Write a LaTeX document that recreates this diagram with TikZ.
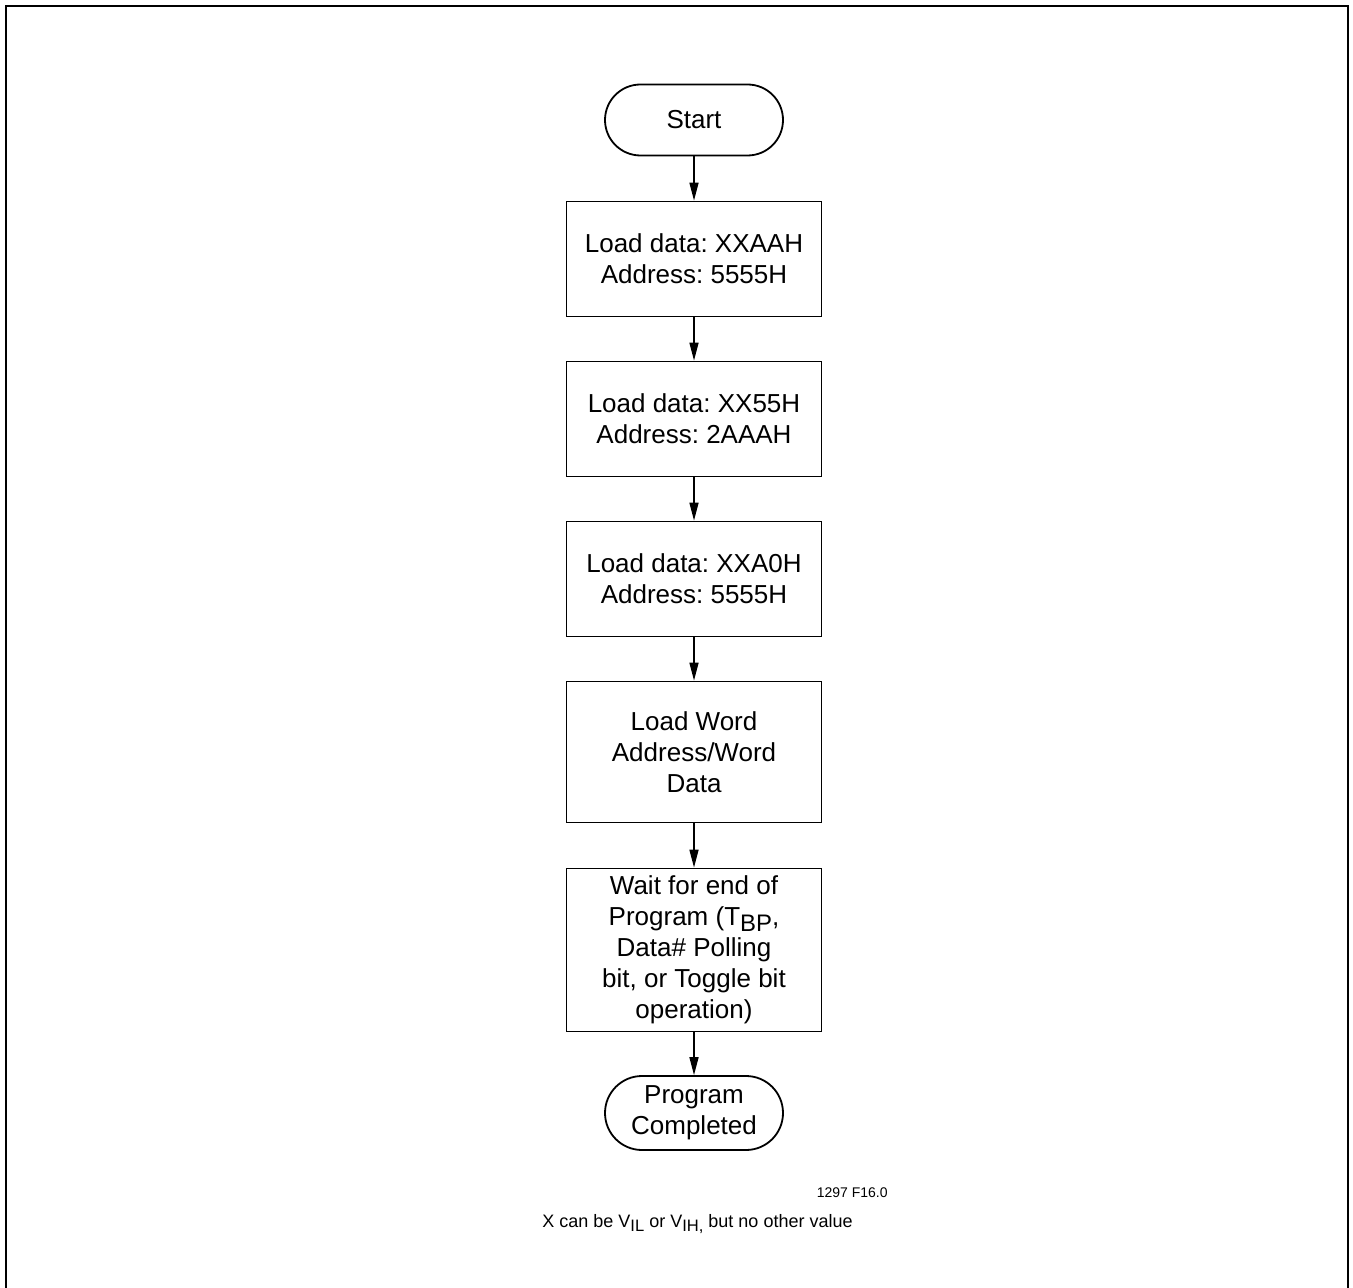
\documentclass[tikz,border=0pt]{standalone}
\usepackage{fontspec}
\setmainfont{Liberation Sans}
\usepackage{graphicx}
\usetikzlibrary{arrows.meta}
\newcommand{\lowsub}[1]{\raisebox{-0.45ex}{\scalebox{0.92}{#1}}}
\frenchspacing
\begin{document}
\begin{tikzpicture}[x=0.5pt,y=-0.5pt,
  box/.style={draw,line width=0.9pt,minimum width=127.5pt,inner sep=0pt,align=center,
    font=\fontsize{13}{15.5}\selectfont},
  term/.style={box,minimum width=89pt},
  flow/.style={-{Triangle[length=9pt,width=4.5pt]},line width=0.8pt},
  note/.style={inner sep=0pt,font=\fontsize{9}{11}\selectfont}]
\useasboundingbox (0,0) rectangle (1353,1288);
\draw[line width=1pt] (6,1288) -- (6,6) -- (1348,6) -- (1348,1288);

\node[term,minimum height=35.5pt,rounded corners=17.75pt] (start) at (694,120) {Start};
\node[box,minimum height=57.5pt] (b1) at (694,259) {Load data: XXAAH\\Address: 5555H};
\node[box,minimum height=57.5pt] (b2) at (694,419) {Load data: XX55H\\Address: 2AAAH};
\node[box,minimum height=57.5pt] (b3) at (694,579) {Load data: XXA0H\\Address: 5555H};
\node[box,minimum height=70.5pt] (b4) at (694,752) {Load Word\\Address/Word\\Data};
\node[box,minimum height=81.5pt] (b5) at (694,950) {Wait for end of\\Program (T\lowsub{BP},\\Data\# Polling\\bit, or Toggle bit\\operation)};
\node[term,minimum height=37pt,rounded corners=18.5pt] (end) at (694,1113) {Program\\Completed};

\draw[flow] (start) -- (b1);
\draw[flow] (b1) -- (b2);
\draw[flow] (b2) -- (b3);
\draw[flow] (b3) -- (b4);
\draw[flow] (b4) -- (b5);
\draw[flow] (b5) -- (end);

\node[note,font=\fontsize{7}{9}\selectfont,anchor=east] (fig) at (888,1193) {1297 F16.0};
\node[note] (xnote) at (697.5,1224) {X can be V\lowsub{IL} or V\lowsub{IH,} but no other value};
\end{tikzpicture}
\end{document}
